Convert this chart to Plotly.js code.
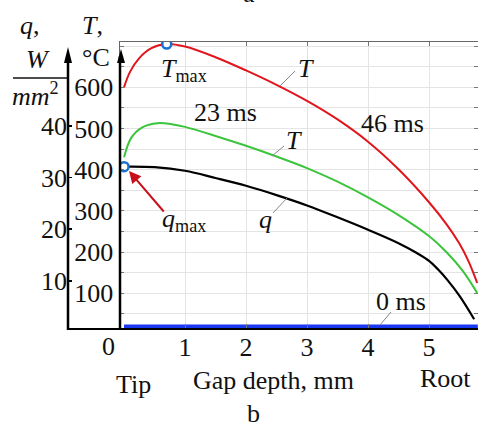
<!DOCTYPE html>
<html><head><meta charset="utf-8">
<script src="https://cdn.plot.ly/plotly-3.0.1.min.js"></script>
<style>body{margin:0;padding:0;background:#fff}#chart{width:478px;height:432px}</style>
</head><body><div id="chart"></div>
<script>
// ---- data ----
const depth46 = [0, 0.1, 0.25, 0.45, 0.7, 1.0, 1.5, 2.0, 2.5, 3.0, 3.5, 4.0, 4.5, 5.0, 5.3, 5.5, 5.65, 5.79];
const temp46  = [600, 638, 671, 695, 705, 699, 673, 641, 606, 567, 522, 468, 401, 321, 265, 220, 177, 125];
const depth23 = [0, 0.12, 0.3, 0.55, 0.8, 1.0, 1.5, 2.0, 2.5, 3.0, 3.5, 4.0, 4.5, 5.0, 5.3, 5.55, 5.79];
const temp23  = [430, 478, 503, 513, 510, 504, 482, 458, 432, 404, 371, 333, 290, 239, 198, 155, 101];
const depthQ  = [0, 0.5, 1.0, 1.5, 2.0, 2.5, 3.0, 3.5, 4.0, 4.5, 4.8, 5.0, 5.15, 5.3, 5.5, 5.74];
const fluxQ   = [32.1, 32.0, 31.3, 29.9, 28.4, 26.6, 24.6, 22.3, 19.9, 17.3, 15.4, 13.9, 12.2, 10.2, 7.1, 2.6];
const depth0  = [0, 5.8];
const temp0   = [20, 20];
const tMaxX = [0.7], tMaxY = [705];
const qMaxX = [0],   qMaxY = [32.1];
const xTicks = [1, 2, 3, 4, 5];
const tTicks = [50,100,150,200,250,300,350,400,450,500,550,600,650,700];
const tTickText = [' ', '100', ' ', '200', ' ', '300', ' ', '400', ' ', '500', ' ', '600', ' ', ' '];
const qTicks = [10, 20, 30, 40];

// ---- layout helpers (pixel -> paper) ----
const L = 67, PW = 411, T0 = 42, PH = 286;
const PX = p => (p - L) / PW;
const PY = p => 1 - (p - T0) / PH;
const FONT = 'Liberation Serif, Times New Roman, serif';

function ann(text, x, y, size, extra) {
  return Object.assign({text: text, xref: 'paper', yref: 'paper', x: PX(x), y: PY(y),
    xanchor: 'center', yanchor: 'middle', showarrow: false,
    font: {family: FONT, size: size || 26, color: '#111'}}, extra || {});
}
function line(x0, y0, x1, y1, color, width) {
  return {type: 'line', xref: 'paper', yref: 'paper', x0: PX(x0), y0: PY(y0), x1: PX(x1), y1: PY(y1),
    line: {color: color, width: width}, layer: 'above'};
}
function arrowHead(x, yTip, yBase, hw) {
  return {type: 'path', xref: 'paper', yref: 'paper',
    path: 'M' + PX(x) + ',' + PY(yTip) + ' L' + PX(x - hw) + ',' + PY(yBase) + ' L' + PX(x + hw) + ',' + PY(yBase) + ' Z',
    fillcolor: '#000', line: {width: 0}, layer: 'above'};
}

const traces = [
  {x: depth0, y: temp0, mode: 'lines', line: {color: '#1838f2', width: 3.5}, yaxis: 'y'},
  {x: depth46, y: temp46, mode: 'lines', line: {color: '#e0161c', width: 2, shape: 'spline', smoothing: 1}, yaxis: 'y'},
  {x: depth23, y: temp23, mode: 'lines', line: {color: '#3cc43c', width: 2, shape: 'spline', smoothing: 1}, yaxis: 'y'},
  {x: depthQ, y: fluxQ, mode: 'lines', line: {color: '#000', width: 2.2, shape: 'spline', smoothing: 1}, yaxis: 'y2'},
  {x: tMaxX, y: tMaxY, mode: 'markers', marker: {symbol: 'circle', size: 9, color: '#fff', line: {color: '#1a6fd1', width: 2.5}}, yaxis: 'y'},
  {x: qMaxX, y: qMaxY, mode: 'markers', marker: {symbol: 'circle', size: 9, color: '#fff', line: {color: '#1a6fd1', width: 2.5}}, yaxis: 'y2'}
];

const layout = {
  width: 478, height: 432,
  margin: {l: L, r: 0, t: T0, b: 432 - T0 - PH},
  paper_bgcolor: '#fff', plot_bgcolor: '#fff',
  showlegend: false,
  font: {family: FONT, size: 26, color: '#111'},
  xaxis: {domain: [53 / PW, 1], range: [-0.066, 5.803], tickvals: xTicks,
    showgrid: true, gridcolor: '#e4e4e4', gridwidth: 1, zeroline: false,
    showline: true, linecolor: '#666', linewidth: 1.5, mirror: 'ticks',
    ticks: 'inside', ticklen: 4, tickcolor: '#777', ticklabelstandoff: -5,
    tickfont: {family: FONT, size: 26, color: '#111'}},
  yaxis: {range: [15.8, 710], tickvals: tTicks, ticktext: tTickText,
    showgrid: true, gridcolor: '#e4e4e4', gridwidth: 1, zeroline: false,
    showline: true, linecolor: '#666', linewidth: 1.5, mirror: 'ticks',
    ticks: 'inside', ticklen: 4, tickcolor: '#777',
    tickfont: {family: FONT, size: 26, color: '#111'}},
  yaxis2: {overlaying: 'y', anchor: 'free', position: 0, side: 'left',
    range: [0.9, 56.2], tickvals: qTicks, showgrid: false, zeroline: false,
    showline: false, ticks: 'inside', ticklen: 4, tickcolor: '#000', tickwidth: 1.5,
    tickfont: {family: FONT, size: 26, color: '#111'}},
  shapes: [
    line(67, 329, 478, 329, '#000', 2.2),
    line(120, 330, 120, 56, '#000', 2.5),
    line(68, 330, 68, 54, '#000', 2.5),
    arrowHead(121, 49, 63, 4),
    arrowHead(68, 47, 63, 4),
    line(13, 78, 67, 78, '#111', 1.5),
    line(280, 86, 295, 71, '#888', 1),
    line(272, 156, 284, 146, '#888', 1),
    line(273, 213, 287, 198, '#888', 1),
    line(380, 325, 391, 312, '#888', 1)
  ],
  annotations: [
    ann('<i>q</i>,', 30, 26),
    ann('<i>T</i>,', 92, 26),
    ann('<i>W</i>', 38, 59),
    ann('<i>mm</i><sup>2</sup>', 35, 94),
    ann('°C', 96, 57),
    ann('0', 108, 346),
    ann('Tip', 133, 384),
    ann('Gap depth, mm', 273, 380),
    ann('Root', 445, 378),
    ann('b', 253, 413),
    ann('a', 249, -6),
    ann('23 ms', 225, 112),
    ann('46 ms', 392, 123),
    ann('<i>T</i>', 306, 68),
    ann('<i>T</i>', 294, 140),
    ann('<i>q</i>', 265, 219),
    ann('0 ms', 401, 301),
    ann('<i>T</i><sub>max</sub>', 184, 70),
    ann('<i>q</i><sub>max</sub>', 184, 220),
    {text: '', xref: 'paper', yref: 'paper', x: PX(129), y: PY(171), showarrow: true,
      ax: 36, ay: 42, arrowcolor: '#c8101a', arrowwidth: 2, arrowhead: 2, arrowsize: 1.2}
  ]
};

Plotly.newPlot('chart', traces, layout, {displayModeBar: false, staticPlot: true});
</script>
</body></html>
